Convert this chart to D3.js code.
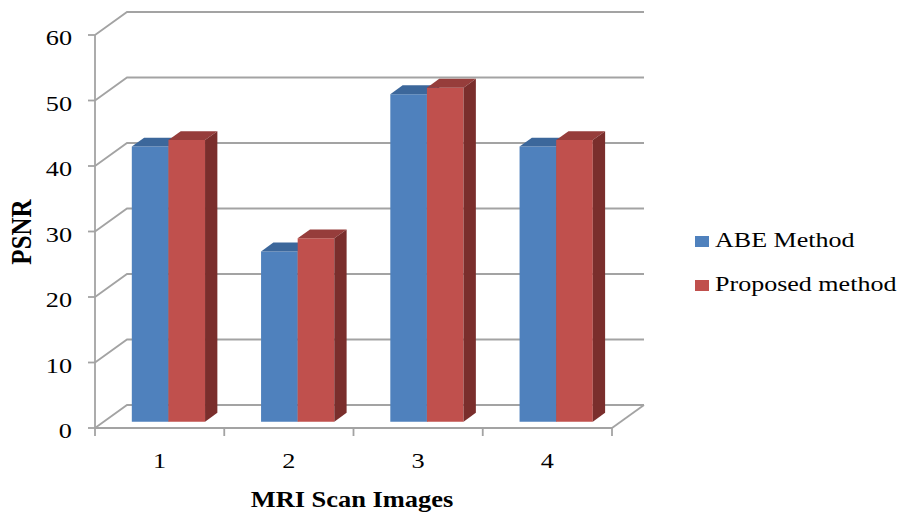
<!DOCTYPE html>
<html>
<head>
<meta charset="utf-8">
<script src="https://cdn.jsdelivr.net/npm/d3@7"></script>
<style>
  body { margin: 0; background: #fff; }
  text { font-family: "Liberation Serif", "Times New Roman", serif; fill: #000; }
</style>
</head>
<body>
<svg id="chart" width="905" height="516"></svg>
<script>
const categories = ["1", "2", "3", "4"];
const seriesNames = ["ABE Method", "Proposed method"];
const abeValues = [42, 26, 50, 42];
const proposedValues = [43, 28, 51, 43];
const yTickValues = [0, 10, 20, 30, 40, 50, 60];

const W = 905, H = 516;
const DEPTH = {dx: 32, dy: -23};          // full depth of the box
const BAR_D0 = 0.275, BAR_D1 = 0.66;      // bar depth, as a share of the box
const SX = 1.25;                          // picture is stretched sideways

const colours = {
  front: ["#4f81bd", "#c0504d"],
  top: ["#3c679b", "#963d3b"],
  side: ["#36577f", "#7a2e2c"]
};
const gridColour = "#a3a3a3";

const svg = d3.select("#chart");

const x = d3.scaleBand().domain(categories).range([95, 612]);
const y = d3.scaleLinear().domain([0, 60]).range([428, 35]);
const xs = d3.scaleBand().domain(seriesNames).range([0, x.bandwidth()]).paddingOuter(0.765).paddingInner(0);

// shift a front-plane point into the box by depth share d
const pt = (px, py, d) => [px + DEPTH.dx * d, py + DEPTH.dy * d];
const poly = pts => "M" + pts.map(p => p.join(",")).join("L") + "Z";

const grid = svg.append("g").attr("class", "grid");

// back wall gridlines with the left wall diagonal
yTickValues.forEach(v => {
  const f = [x.range()[0], y(v)];
  const b = pt(f[0], f[1], 1);
  grid.append("path")
    .attr("d", "M" + f.join(",") + "L" + b.join(",") + "L" + (x.range()[1] + DEPTH.dx) + "," + b[1])
    .attr("fill", "none").attr("stroke", gridColour).attr("stroke-width", 1.8);
});
// floor right edge
grid.append("line")
  .attr("x1", x.range()[1]).attr("y1", y(0))
  .attr("x2", x.range()[1] + DEPTH.dx).attr("y2", y(0) + DEPTH.dy)
  .attr("stroke", gridColour).attr("stroke-width", 1.8);

// y axis line + ticks
const axisG = svg.append("g").attr("class", "axes");
axisG.append("line")
  .attr("x1", x.range()[0]).attr("x2", x.range()[0])
  .attr("y1", y(0)).attr("y2", y(60))
  .attr("stroke", gridColour).attr("stroke-width", 1.8);
yTickValues.forEach(v => {
  axisG.append("line")
    .attr("x1", x.range()[0] - 7).attr("x2", x.range()[0])
    .attr("y1", y(v)).attr("y2", y(v))
    .attr("stroke", gridColour).attr("stroke-width", 1.8);
  axisG.append("g")
    .attr("transform", "translate(72," + (y(v) + 10) + ") scale(" + SX + ",1)")
    .append("text")
    .attr("text-anchor", "end")
    .style("font-size", "21px")
    .text(v);
});

// category axis line + ticks
axisG.append("line")
  .attr("x1", x.range()[0]).attr("x2", x.range()[1])
  .attr("y1", y(0)).attr("y2", y(0))
  .attr("stroke", gridColour).attr("stroke-width", 1.8);
const tickXs = categories.map(c => x(c)).concat([x.range()[1]]);
tickXs.forEach(tx => {
  axisG.append("line")
    .attr("x1", tx).attr("x2", tx)
    .attr("y1", y(0)).attr("y2", y(0) + 8)
    .attr("stroke", gridColour).attr("stroke-width", 1.8);
});
categories.forEach(c => {
  axisG.append("g")
    .attr("transform", "translate(" + (x(c) + x.bandwidth() / 2) + ",468) scale(" + SX + ",1)")
    .append("text")
    .attr("text-anchor", "middle")
    .style("font-size", "21px")
    .text(c);
});

// bars
const barData = [];
categories.forEach((c, i) => {
  barData.push({cat: c, s: 0, value: abeValues[i]});
  barData.push({cat: c, s: 1, value: proposedValues[i]});
});

const bars = svg.append("g").attr("class", "bars")
  .selectAll("g")
  .data(barData)
  .join("g");

bars.each(function(d) {
  const g = d3.select(this);
  const fx0 = x(d.cat) + xs(seriesNames[d.s]);
  const fx1 = fx0 + xs.bandwidth();
  const yb = y(0), yt = y(d.value);
  const a = pt(fx0, yb, BAR_D0), b = pt(fx1, yb, BAR_D0);
  const c = pt(fx1, yt, BAR_D0), e = pt(fx0, yt, BAR_D0);
  const dd = BAR_D1 - BAR_D0;
  const sh = p => [p[0] + DEPTH.dx * dd, p[1] + DEPTH.dy * dd];
  g.append("path").attr("d", poly([a, b, c, e])).attr("fill", colours.front[d.s]);
  g.append("path").attr("d", poly([e, c, sh(c), sh(e)])).attr("fill", colours.top[d.s]);
  g.append("path").attr("d", poly([b, sh(b), sh(c), c])).attr("fill", colours.side[d.s]);
});

// axis titles
svg.append("g")
  .attr("transform", "translate(31,232) scale(1.2,1) rotate(-90)")
  .append("text")
  .attr("text-anchor", "middle")
  .style("font-size", "25px").style("font-weight", "bold")
  .text("PSNR");

svg.append("g")
  .attr("transform", "translate(352,507) scale(1.15,1)")
  .append("text")
  .attr("text-anchor", "middle")
  .style("font-size", "23px").style("font-weight", "bold")
  .text("MRI Scan Images");

// legend
const legend = svg.append("g").attr("class", "legend")
  .selectAll("g")
  .data(seriesNames)
  .join("g")
  .attr("transform", (d, i) => "translate(695," + (236 + i * 44) + ")");
legend.append("rect")
  .attr("width", 14).attr("height", 11)
  .attr("fill", (d, i) => colours.front[i]);
legend.append("g")
  .attr("transform", "translate(20,11) scale(1.24,1)")
  .append("text")
  .style("font-size", "21px")
  .text(d => d);
</script>
</body>
</html>
